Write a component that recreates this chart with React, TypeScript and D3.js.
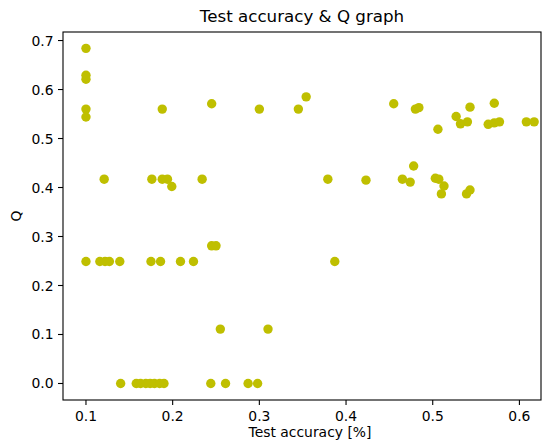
import React from "react";
import * as d3 from "d3";

const accuracy: number[] = [
  0.1, 0.1, 0.1, 0.1, 0.1,
  0.188, 0.245, 0.121, 0.176, 0.188, 0.194, 0.199, 0.234,
  0.300, 0.345, 0.354, 0.379, 0.423,
  0.455, 0.480, 0.484, 0.506, 0.527, 0.532, 0.540, 0.543,
  0.564, 0.571, 0.577, 0.571, 0.608, 0.617,
  0.478, 0.465, 0.474, 0.503, 0.507, 0.513, 0.510, 0.539, 0.543,
  0.1, 0.116, 0.122, 0.127, 0.139, 0.175, 0.186, 0.209, 0.224,
  0.245, 0.250, 0.255,
  0.140, 0.158, 0.163, 0.169, 0.174, 0.179, 0.185, 0.190, 0.244, 0.261,
  0.387, 0.310, 0.287, 0.298,
];
const qValues: number[] = [
  0.684, 0.629, 0.621, 0.560, 0.544,
  0.560, 0.571, 0.417, 0.417, 0.417, 0.417, 0.402, 0.417,
  0.560, 0.560, 0.585, 0.417, 0.415,
  0.571, 0.560, 0.563, 0.519, 0.545, 0.530, 0.534, 0.564,
  0.529, 0.532, 0.534, 0.572, 0.534, 0.534,
  0.444, 0.417, 0.411, 0.419, 0.417, 0.403, 0.387, 0.387, 0.395,
  0.249, 0.249, 0.249, 0.249, 0.249, 0.249, 0.249, 0.249, 0.249,
  0.281, 0.281, 0.111,
  0.0, 0.0, 0.0, 0.0, 0.0, 0.0, 0.0, 0.0, 0.0, 0.0,
  0.249, 0.111, 0.0, 0.0,
];
const xTicks: number[] = [0.1, 0.2, 0.3, 0.4, 0.5, 0.6];
const yTicks: number[] = [0.0, 0.1, 0.2, 0.3, 0.4, 0.5, 0.6, 0.7];
const title = "Test accuracy & Q graph";
const xLabel = "Test accuracy [%]";
const yLabel = "Q";

const W = 547;
const H = 445;
const left = 63;
const right = 541;
const top = 32;
const bottom = 400;
const font = "DejaVu Sans, sans-serif";

export default function App() {
  const x = d3.scaleLinear().domain([0.0735, 0.6249]).range([left, right]);
  const y = d3.scaleLinear().domain([-0.0337, 0.7174]).range([bottom, top]);
  const fmt = d3.format(".1f");
  return (
    <svg width={W} height={H} style={{ position: "absolute", left: 0, top: 0, background: "#fff" }}>
      <rect x={0} y={0} width={W} height={H} fill="#fff" />
      <text x={(left + right) / 2} y={22} textAnchor="middle" fontFamily={font} fontSize={16.7} fill="#000">
        {title}
      </text>
      {accuracy.map((a, i) => (
        <circle key={i} cx={x(a)} cy={y(qValues[i])} r={4.7} fill="#bfbf00" />
      ))}
      <rect x={left} y={top} width={right - left} height={bottom - top} fill="none" stroke="#000" strokeWidth={1.1} />
      {xTicks.map((t) => (
        <g key={"x" + t}>
          <line x1={x(t)} x2={x(t)} y1={bottom} y2={bottom + 5} stroke="#000" strokeWidth={1.1} />
          <text x={x(t)} y={bottom + 20.5} textAnchor="middle" fontFamily={font} fontSize={13.9} fill="#000">
            {fmt(t)}
          </text>
        </g>
      ))}
      {yTicks.map((t) => (
        <g key={"y" + t}>
          <line x1={left - 5} x2={left} y1={y(t)} y2={y(t)} stroke="#000" strokeWidth={1.1} />
          <text x={left - 9.5} y={y(t)} dy="0.36em" textAnchor="end" fontFamily={font} fontSize={13.9} fill="#000">
            {fmt(t)}
          </text>
        </g>
      ))}
      <text x={310} y={437} textAnchor="middle" fontFamily={font} fontSize={13.9} fill="#000">
        {xLabel}
      </text>
      <text
        transform={`translate(21,${(top + bottom) / 2}) rotate(-90)`}
        textAnchor="middle"
        fontFamily={font}
        fontSize={13.9}
        fill="#000"
      >
        {yLabel}
      </text>
    </svg>
  );
}
